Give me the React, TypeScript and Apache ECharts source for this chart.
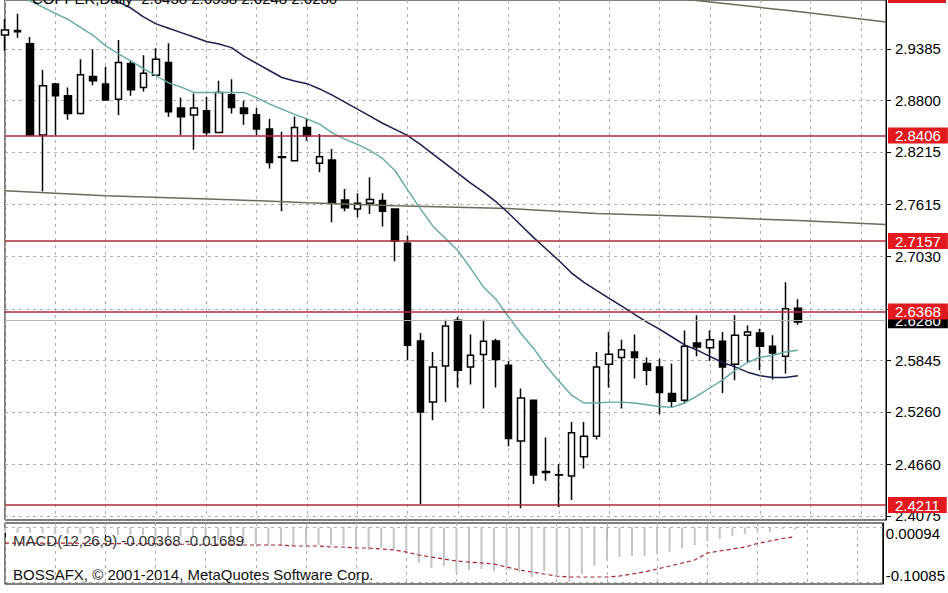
import React, { useEffect, useRef } from "react";
import * as echarts from "echarts";

const FONT = "Liberation Sans";

// 64 daily bars + 7 empty slots to the right edge
const categories: string[] = Array.from({ length: 71 }, (_, i) => "D" + (i + 1));

const opens = [
  2.9544, 2.9595, 2.9445, 2.8406, 2.8985, 2.8852, 2.8651, 2.9071, 2.8985, 2.8814,
  2.9218, 2.8946, 2.9087, 2.923, 2.8712, 2.8633, 2.8682, 2.8436, 2.8863, 2.8712,
  2.8636, 2.8474, 2.816, 2.8114, 2.8492, 2.8084, 2.8122, 2.7668, 2.7566, 2.763,
  2.7661, 2.7566, 2.7176, 2.6064, 2.5372, 2.578, 2.6299, 2.5769, 2.591, 2.6064,
  2.5788, 2.4929, 2.5391, 2.458, 2.4545, 2.4529, 2.4748, 2.4983, 2.58, 2.5876,
  2.5939, 2.5808, 2.5769, 2.5467, 2.5391, 2.6042, 2.5989, 2.6061, 2.58, 2.6129,
  2.6155, 2.6004, 2.589, 2.6438,
];
const closes = [
  2.9601, 2.958, 2.8406, 2.8965, 2.8852, 2.8651, 2.909, 2.9022, 2.8803, 2.923,
  2.892, 2.9109, 2.9268, 2.867, 2.8614, 2.8712, 2.8436, 2.8889, 2.8719, 2.8651,
  2.8474, 2.8095, 2.815, 2.8492, 2.8398, 2.816, 2.7641, 2.7578, 2.763, 2.7672,
  2.7539, 2.7199, 2.6015, 2.5258, 2.5769, 2.6234, 2.5731, 2.5902, 2.6061, 2.5853,
  2.4957, 2.5417, 2.454, 2.457, 2.454, 2.502, 2.4983, 2.5769, 2.5913, 2.5966,
  2.5876, 2.5731, 2.5479, 2.538, 2.6004, 2.5996, 2.608, 2.5769, 2.6129, 2.6166,
  2.6004, 2.5928, 2.6432, 2.628,
];
const lows = [
  2.9363, 2.9513, 2.839, 2.7766, 2.8406, 2.858, 2.864, 2.8973, 2.8795, 2.8633,
  2.8852, 2.8901, 2.908, 2.8614, 2.8406, 2.8239, 2.84, 2.843, 2.8651, 2.8523,
  2.8406, 2.8027, 2.7539, 2.811, 2.8341, 2.7982, 2.7414, 2.7539, 2.7471, 2.7509,
  2.7365, 2.6972, 2.5845, 2.4211, 2.5164, 2.5372, 2.5535, 2.5569, 2.5297, 2.5535,
  2.4869, 2.4162, 2.4438, 2.4475, 2.4174, 2.4257, 2.4616, 2.4945, 2.5535, 2.5297,
  2.5637, 2.5561, 2.5232, 2.5315, 2.5354, 2.589, 2.5837, 2.5474, 2.5618, 2.5826,
  2.5731, 2.5626, 2.5694, 2.6248,
];
const highs = [
  2.9726, 2.9786, 2.9521, 2.9144, 2.9, 2.8946, 2.9268, 2.9382, 2.9181, 2.9487,
  2.9249, 2.9314, 2.9393, 2.945, 2.8833, 2.8878, 2.8841, 2.9022, 2.9041, 2.8795,
  2.8712, 2.8588, 2.8443, 2.8617, 2.8588, 2.8417, 2.8247, 2.7793, 2.7743, 2.7925,
  2.7743, 2.757, 2.7263, 2.6155, 2.5939, 2.6307, 2.6336, 2.6137, 2.6307, 2.6091,
  2.5837, 2.5524, 2.54, 2.4968, 2.4665, 2.5145, 2.5145, 2.5939, 2.6166, 2.608,
  2.6137, 2.5876, 2.5864, 2.5808, 2.6185, 2.6356, 2.6185, 2.6166, 2.6356, 2.6242,
  2.6205, 2.6129, 2.6733, 2.6538,
];

// moving averages: [bar index, price]
const maFast: [number, number][] = [
  [1, 3.001], [2, 2.993], [3, 2.986], [4, 2.979], [5, 2.972], [6, 2.963], [7, 2.954], [8, 2.942], [9, 2.933],
  [10, 2.925], [11, 2.916], [12, 2.908], [13, 2.9], [14, 2.895], [15, 2.889], [16, 2.889], [17, 2.889],
  [18, 2.889], [19, 2.889], [20, 2.883], [21, 2.876], [22, 2.87], [23, 2.864], [24, 2.859], [25, 2.853],
  [26, 2.843], [27, 2.836], [28, 2.83], [29, 2.823], [30, 2.814], [31, 2.8], [32, 2.778], [33, 2.757],
  [34, 2.737], [35, 2.723], [36, 2.709], [37, 2.689], [38, 2.668], [39, 2.654], [40, 2.634], [41, 2.615],
  [42, 2.598], [43, 2.578], [44, 2.561], [45, 2.545], [46, 2.536], [47, 2.536], [48, 2.537], [49, 2.537],
  [50, 2.536], [51, 2.534], [52, 2.532], [53, 2.531], [54, 2.536], [55, 2.544], [56, 2.553], [57, 2.562],
  [58, 2.573], [59, 2.582], [60, 2.588], [61, 2.59], [62, 2.594], [63, 2.596],
];
const maSlow: [number, number][] = [
  [8, 2.997], [9, 2.992], [10, 2.985], [11, 2.975], [12, 2.967], [13, 2.962], [14, 2.957], [15, 2.952],
  [16, 2.947], [17, 2.944], [18, 2.94], [19, 2.93], [20, 2.922], [21, 2.914], [22, 2.906], [23, 2.902],
  [24, 2.899], [25, 2.893], [26, 2.886], [27, 2.878], [28, 2.87], [29, 2.862], [30, 2.854], [31, 2.847],
  [32, 2.84], [33, 2.83], [34, 2.819], [35, 2.808], [36, 2.797], [37, 2.786], [38, 2.776], [39, 2.765],
  [40, 2.752], [41, 2.738], [42, 2.724], [43, 2.711], [44, 2.698], [45, 2.684], [46, 2.673], [47, 2.664],
  [48, 2.655], [49, 2.646], [50, 2.637], [51, 2.628], [52, 2.62], [53, 2.611], [54, 2.602], [55, 2.596],
  [56, 2.589], [57, 2.582], [58, 2.577], [59, 2.571], [60, 2.567], [61, 2.565], [62, 2.565], [63, 2.567],
];
const maLongA: [number, number][] = [
  [0, 2.7773], [8, 2.7716], [18, 2.7671], [24, 2.7637], [31, 2.7603], [40, 2.757], [47, 2.7513],
  [55, 2.7479], [63, 2.7433], [70, 2.7388],
];
const maLongB: [number, number][] = [[54, 2.995], [63, 2.981], [70, 2.969]];

// MACD(12,26,9)
const macdMain = [
  -0.01, -0.01, -0.01, -0.01, -0.012, -0.012, -0.012, -0.012, -0.014, -0.014,
  -0.014, -0.014, -0.017, -0.017, -0.017, -0.017, -0.022, -0.024, -0.026, -0.028,
  -0.0305, -0.0324, -0.0342, -0.0342, -0.0324, -0.0324, -0.0324, -0.0324, -0.0379, -0.0416,
  -0.0379, -0.0416, -0.049, -0.0657, -0.075, -0.0712, -0.0823, -0.0786, -0.0768, -0.0805,
  -0.0786, -0.0823, -0.0916, -0.0805, -0.0879, -0.1005, -0.0861, -0.0712, -0.0601, -0.0546,
  -0.0527, -0.0527, -0.049, -0.0453, -0.0379, -0.0324, -0.025, -0.0213, -0.0157, -0.012,
  -0.0083, -0.0083, -0.0028, -0.00368,
];
const macdSignal = [
  -0.029, -0.029, -0.029, -0.029, -0.029, -0.029, -0.029, -0.03, -0.03, -0.03,
  -0.03, -0.03, -0.03, -0.031, -0.031, -0.031, -0.031, -0.031, -0.031, -0.0324,
  -0.0324, -0.0324, -0.0324, -0.0342, -0.0342, -0.0342, -0.0361, -0.0361, -0.0379, -0.0379,
  -0.0398, -0.0416, -0.0453, -0.0509, -0.0546, -0.0583, -0.062, -0.0639, -0.0657, -0.0676,
  -0.0731, -0.0786, -0.0823, -0.0861, -0.0898, -0.0916, -0.0916, -0.0916, -0.0916, -0.0898,
  -0.0861, -0.0823, -0.0768, -0.0713, -0.0657, -0.0602, -0.0472, -0.0435, -0.0398, -0.0361,
  -0.0296, -0.025, -0.0204, -0.01689,
];

const priceTicks = [2.9385, 2.88, 2.8215, 2.7615, 2.703, 2.643, 2.5845, 2.526, 2.466, 2.4075];
const macdTicks = [0.00094, -0.10085];
const levels = [2.999, 2.8406, 2.7157, 2.6368, 2.4211];
const bidPrice = 2.628;

const titleText = "COPPER,Daily  2.6438 2.6538 2.6248 2.6280";
const macdText = "MACD(12,26,9) -0.00368 -0.01689";
const copyText = "BOSSAFX, \u00A9 2001-2014, MetaQuotes Software Corp.";

const GRID_COLOR = "#acacac";

export default function App() {
  const ref = useRef<HTMLDivElement>(null);
  useEffect(() => {
    const chart = echarts.init(ref.current as HTMLDivElement, null, { renderer: "svg" });
    const candleData = opens.map((o, i) => [o, closes[i], lows[i], highs[i]]);
    const splitLine = { show: true, lineStyle: { color: GRID_COLOR, type: [3, 4], width: 1 } };
    const lineBase = { type: "line", symbol: "none", showSymbol: false, silent: true, xAxisIndex: 0, yAxisIndex: 0 };
    const option: any = {
      animation: false,
      backgroundColor: "#ffffff",
      textStyle: { fontFamily: FONT },
      grid: [
        { left: 5, right: 62, top: -1, height: 521, show: true, borderColor: "#000", borderWidth: 1 },
        { left: 5, right: 62, top: 523, height: 61, show: true, borderColor: "#000", borderWidth: 1 },
      ],
      xAxis: [
        {
          type: "category", gridIndex: 0, data: categories, boundaryGap: false,
          axisLine: { show: false }, axisTick: { show: false }, axisLabel: { show: false },
          splitLine: { ...splitLine, interval: 3 },
        },
        {
          type: "category", gridIndex: 1, data: categories, boundaryGap: false,
          axisLine: { show: false },
          axisTick: {
            show: true, length: 10, lineStyle: { color: "#000" },
            interval: (i: number) => i % 8 === 0 && i < opens.length,
          },
          axisLabel: { show: false },
          splitLine: { ...splitLine, interval: 3 },
        },
      ],
      yAxis: [
        {
          type: "value", gridIndex: 0, position: "right", min: 2.40295, max: 2.99412,
          axisLine: { show: true, lineStyle: { color: "#000" } },
          axisTick: { show: true, customValues: priceTicks, length: 5, lineStyle: { color: "#000" } },
          axisLabel: {
            customValues: priceTicks, margin: 9, color: "#000", fontSize: 15, fontFamily: FONT,
            formatter: (v: number) => v.toFixed(4),
          },
          splitLine,
        },
        {
          type: "value", gridIndex: 1, position: "right", min: -0.10455, max: 0.00834,
          axisLine: { show: true, lineStyle: { color: "#000" } },
          axisTick: { show: false, customValues: macdTicks },
          axisLabel: {
            customValues: macdTicks, margin: 3,
            formatter: (v: number) => (v > -0.05 ? "{t|" + v.toFixed(5) + "}" : "{b|" + v.toFixed(5) + "}"),
            rich: {
              t: { fontSize: 15, fontFamily: FONT, color: "#000", padding: [14, 0, 0, 0] },
              b: { fontSize: 15, fontFamily: FONT, color: "#000", padding: [0, 0, 14, 0] },
            },
          },
          splitLine,
        },
      ],
      series: [
        {
          type: "candlestick", name: "COPPER", xAxisIndex: 0, yAxisIndex: 0, data: candleData,
          barWidth: 7, silent: true,
          itemStyle: { color: "#ffffff", color0: "#000000", borderColor: "#000000", borderColor0: "#000000", borderColorDoji: "#000000", borderWidth: 1.5 },
        },
        { ...lineBase, name: "MA long A", data: maLongA, lineStyle: { color: "#6c6c58", width: 1.5 } },
        { ...lineBase, name: "MA long B", data: maLongB, lineStyle: { color: "#6c6c58", width: 1.5 } },
        { ...lineBase, name: "MA slow", data: maSlow, lineStyle: { color: "#1c1c4e", width: 1.5 } },
        { ...lineBase, name: "MA fast", data: maFast, lineStyle: { color: "#62a9a6", width: 1.4 } },
        {
          ...lineBase, name: "levels", data: [], clip: false,
          markLine: {
            silent: true, symbol: ["none", "none"], animation: false,
            lineStyle: { color: "#ae2b38", width: 1.6, type: "solid" },
            label: {
              show: true, position: "end", distance: 2, color: "#ffffff", backgroundColor: "#e21a1f",
              padding: [1, 7, 0, 7], fontSize: 15, fontFamily: FONT, lineHeight: 15,
            },
            data: [
              {
                yAxis: bidPrice, lineStyle: { color: "#b4b4b4", width: 1.2 },
                label: { backgroundColor: "#000000", formatter: bidPrice.toFixed(4) },
              },
              ...levels.map((v) => ({ yAxis: v, label: { formatter: v.toFixed(4) } })),
            ],
          },
        },
        {
          type: "bar", name: "MACD", xAxisIndex: 1, yAxisIndex: 1, data: macdMain, barWidth: 2,
          silent: true, itemStyle: { color: "#c4c4c4" },
        },
        {
          type: "line", name: "Signal", xAxisIndex: 1, yAxisIndex: 1, data: macdSignal, symbol: "none",
          silent: true, lineStyle: { color: "#a8242c", width: 1.2, type: [4, 3] },
        },
      ],
      graphic: [
        { type: "rect", z: 90, shape: { x: 888, y: 0, width: 58, height: 3 }, style: { fill: "#e21a1f" } },
        { type: "text", x: 32, y: -2, z: 100, style: { text: titleText, fontSize: 15, fontFamily: FONT, fill: "#000", verticalAlign: "middle" } },
        { type: "text", x: 13, y: 540, z: 100, style: { text: macdText, fontSize: 15, fontFamily: FONT, fill: "#333", verticalAlign: "middle" } },
        { type: "text", x: 13, y: 574, z: 100, style: { text: copyText, fontSize: 15, fontFamily: FONT, fill: "#111", verticalAlign: "middle" } },
      ],
    };
    chart.setOption(option);
    return () => chart.dispose();
  }, []);
  return (
    <div
      ref={ref}
      style={{ position: "fixed", left: 0, top: 0, width: 948, height: 593, background: "#fff" }}
    />
  );
}
